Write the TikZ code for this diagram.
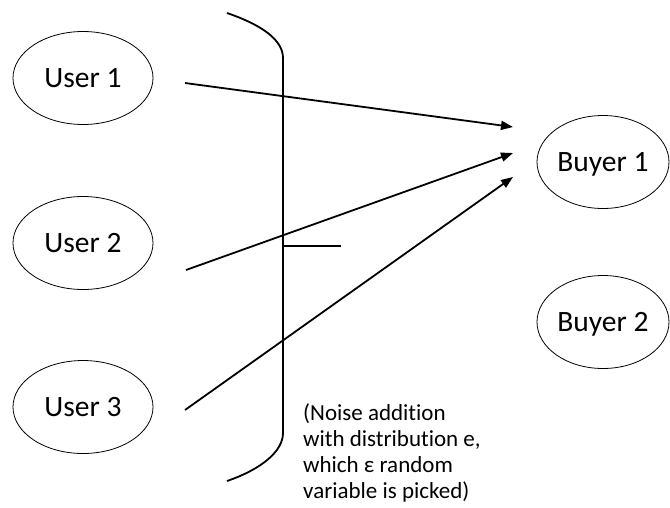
\documentclass[tikz,border=0pt]{standalone}
\usepackage{fontspec}
\setmainfont{Carlito}[Ligatures=NoCommon]
\usetikzlibrary{arrows.meta, shapes.geometric, positioning}

\begin{document}
\begin{tikzpicture}[x=1pt, y=-1pt,
    party/.style={draw, ellipse, line width=0.8pt, minimum width=140pt, minimum height=93pt,
      inner sep=0pt, text height=19pt, text depth=0pt, font=\fontsize{29.5}{34}\selectfont},
    flow/.style={line width=1.8pt, -{Triangle[length=12pt, width=9pt]}}]
        \useasboundingbox (0,0) rectangle (670,507);
        \node[party] (user1) at (83,78) {User 1};
        \node[party] (user2) at (83,243) {User 2};
        \node[party] (user3) at (83,407) {User 3};
        \node[party, minimum width=132pt] (buyer1) at (603,162) {Buyer 1};
        \node[party, minimum width=132pt] (buyer2) at (603,322) {Buyer 2};
        \coordinate (out1) at (185,83);
        \coordinate (out2) at (186,270);
        \coordinate (out3) at (185,410);
        \coordinate (in1) at (513,127);
        \coordinate (in2) at (513,153);
        \coordinate (in3) at (513,177);
        \foreach \from/\to in
        {out1/in1,out2/in2,out3/in3} \draw [flow] (\from)--(\to);
        \draw[line width=1.8pt] (227,13) .. controls (262,25) and (283,40) .. (283,58)
          -- (283,433) .. controls (283,451) and (262,469) .. (227,481);
        \draw[line width=1.8pt] (283,246) -- (341,246);
        \node[anchor=north west, inner sep=0pt, align=left, font=\fontsize{23}{26}\selectfont]
          (note) at (303,403) {(Noise addition\\with distribution e,\\which ε random\\variable is picked)};
\end{tikzpicture}
\end{document}
